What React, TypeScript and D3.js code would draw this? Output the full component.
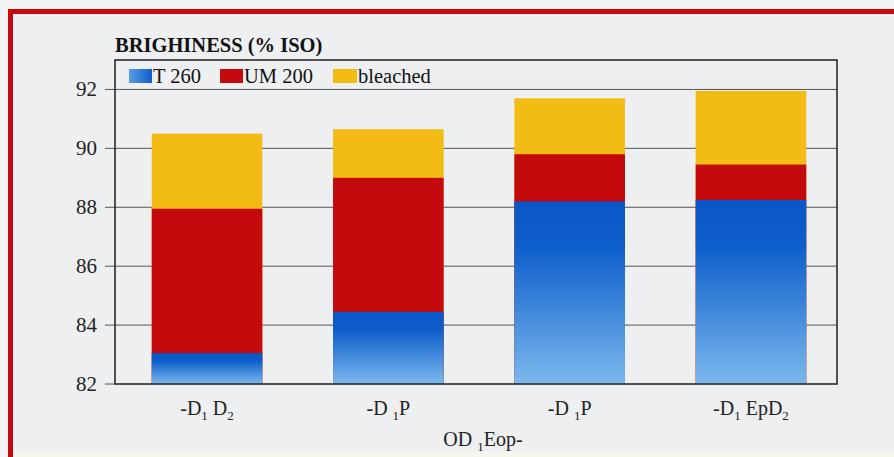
import React from "react";
import * as d3 from "d3";

// Sequence names (segments so the subscripts can be drawn as tspans)
const categories = ["a", "b", "c", "d"];
const categoryLabels: { t: string; sub?: boolean }[][] = [
  [{ t: "-D" }, { t: "1", sub: true }, { t: " D" }, { t: "2", sub: true }],
  [{ t: "-D " }, { t: "1", sub: true }, { t: "P" }],
  [{ t: "-D " }, { t: "1", sub: true }, { t: "P" }],
  [{ t: "-D" }, { t: "1", sub: true }, { t: " EpD" }, { t: "2", sub: true }],
];
const axisTitleParts: { t: string; sub?: boolean }[] = [
  { t: "OD " },
  { t: "1", sub: true },
  { t: "Eop-" },
];

// ISO brightness reached by each pulp
const t260 = [83.05, 84.45, 88.2, 88.25];
const um200 = [87.95, 89.0, 89.8, 89.45];
const bleached = [90.5, 90.65, 91.7, 91.95];

const seriesNames = ["T 260", "UM 200", "bleached"];
const yTicks = [82, 84, 86, 88, 90, 92];

const W = 894;
const H = 457;
const plot = { left: 115, right: 837, top: 60, bottom: 384 };
const FONT = "'Liberation Serif', 'Times New Roman', serif";
const BG = "#eeeff1";
const RED = "#c40a0c";
const YELLOW = "#f3bc14";

function Parts({ parts, size }: { parts: { t: string; sub?: boolean }[]; size: number }) {
  let shifted = false;
  return (
    <>
      {parts.map((p, i) => {
        const dy = p.sub && !shifted ? size * 0.25 : !p.sub && shifted ? -size * 0.25 : 0;
        shifted = !!p.sub;
        return (
          <tspan key={i} dy={dy} fontSize={p.sub ? size * 0.65 : size}>
            {p.t}
          </tspan>
        );
      })}
    </>
  );
}

export default function App() {
  const x = d3.scaleBand<string>().domain(categories).range([118, 840]).paddingInner(0.39).paddingOuter(0.186);
  const y = d3.scaleLinear().domain([82, 93]).range([plot.bottom, plot.top]);
  const bw = x.bandwidth();

  const layers = [
    { name: seriesNames[2], values: bleached, fill: YELLOW },
    { name: seriesNames[1], values: um200, fill: RED },
    { name: seriesNames[0], values: t260, fill: "url(#blueGrad)" },
  ];

  const legend = [
    { name: seriesNames[0], fill: "url(#blueGradH)", x: 129, w: 23 },
    { name: seriesNames[1], fill: RED, x: 220, w: 23 },
    { name: seriesNames[2], fill: YELLOW, x: 333, w: 24 },
  ];

  return (
    <div style={{ position: "fixed", left: 0, top: 0 }}>
      <svg width={W} height={H} style={{ display: "block" }}>
        <defs>
          <linearGradient id="blueGrad" x1="0" y1="0" x2="0" y2="1">
            <stop offset="0" stopColor="#0a56c6" />
            <stop offset="0.25" stopColor="#0d5ecb" />
            <stop offset="1" stopColor="#7cb8ee" />
          </linearGradient>
          <linearGradient id="blueGradH" x1="0" y1="0" x2="1" y2="0">
            <stop offset="0" stopColor="#5a9ee6" />
            <stop offset="1" stopColor="#0d5ecb" />
          </linearGradient>
        </defs>
        <rect x={0} y={0} width={W} height={H} fill="#f3f3f3" />
        <rect x={8} y={9} width={W - 8} height={H - 9} fill={BG} />
        <rect x={13} y={451} width={W - 13} height={6} fill="#f5f7ee" />
        {/* red frame */}
        <rect x={8} y={9} width={W - 8} height={5} fill={RED} />
        <rect x={8} y={9} width={5} height={H - 9} fill={RED} />

        {/* title */}
        <text x={plot.left} y={52} fontFamily={FONT} fontWeight="bold" fontSize={20.5} fill="#111">
          BRIGHINESS (% ISO)
        </text>

        {/* gridlines and ticks */}
        {yTicks.map((t) => (
          <g key={t}>
            <line
              x1={105}
              x2={t === 82 ? plot.left : plot.right}
              y1={y(t)}
              y2={y(t)}
              stroke="#555"
              strokeWidth={1}
            />
            <text
              x={97}
              y={y(t) + 7}
              textAnchor="end"
              fontFamily={FONT}
              fontSize={21}
              fill="#222"
            >
              {t}
            </text>
          </g>
        ))}

        {/* bars */}
        {layers.map((layer) => (
          <g key={layer.name}>
            {layer.values.map((v, i) => (
              <rect
                key={i}
                x={x(categories[i])}
                y={y(v)}
                width={bw}
                height={y(82) - y(v)}
                fill={layer.fill}
              />
            ))}
          </g>
        ))}

        {/* plot frame */}
        <rect
          x={plot.left}
          y={plot.top}
          width={plot.right - plot.left}
          height={plot.bottom - plot.top}
          fill="none"
          stroke="#2a2a2a"
          strokeWidth={1.6}
        />

        {/* legend */}
        {legend.map((l) => (
          <g key={l.name}>
            <rect x={l.x} y={69} width={l.w} height={14} fill={l.fill} />
            <text x={l.x + l.w + 1} y={83} fontFamily={FONT} fontSize={20.5} fill="#111">
              {l.name}
            </text>
          </g>
        ))}

        {/* category labels */}
        {categories.map((c, i) => (
          <text
            key={c}
            x={(x(c) as number) + bw / 2}
            y={415}
            textAnchor="middle"
            fontFamily={FONT}
            fontSize={20}
            fill="#222"
          >
            <Parts parts={categoryLabels[i]} size={20} />
          </text>
        ))}
        <text x={483} y={446} textAnchor="middle" fontFamily={FONT} fontSize={20} fill="#222">
          <Parts parts={axisTitleParts} size={20} />
        </text>
      </svg>
    </div>
  );
}
